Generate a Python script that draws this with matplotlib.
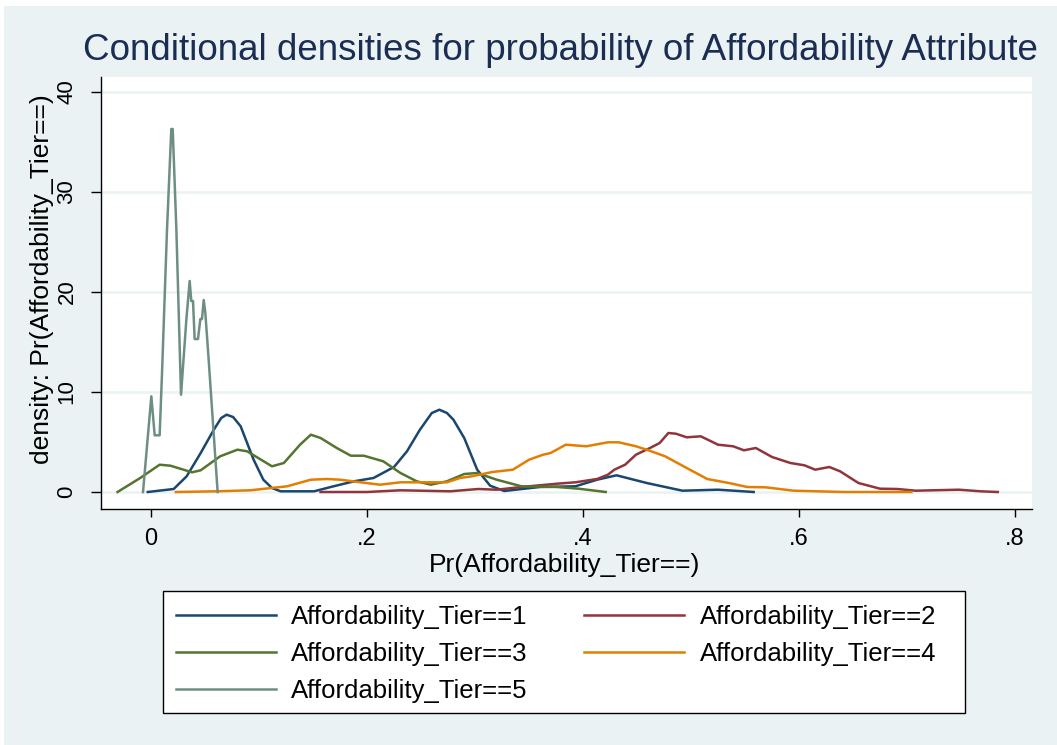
import matplotlib.pyplot as plt
from matplotlib.patches import Rectangle

plt.rcParams['font.family'] = ['Liberation Sans', 'DejaVu Sans']

# density curves (x = Pr, y = density)
tier1_x = [-0.003, 0.021, 0.033, 0.046, 0.058, 0.065, 0.070, 0.076, 0.083, 0.095, 0.104, 0.112, 0.120,
           0.151, 0.169, 0.188, 0.206, 0.225, 0.237, 0.249, 0.260, 0.267, 0.274, 0.280, 0.290, 0.302,
           0.314, 0.327, 0.360, 0.393, 0.413, 0.431, 0.459, 0.492, 0.525, 0.558]
tier1_y = [0.0, 0.3, 1.57, 3.9, 6.2, 7.4, 7.73, 7.5, 6.57, 3.23, 1.23, 0.4, 0.07,
           0.07, 0.57, 1.07, 1.4, 2.5, 4.07, 6.23, 7.9, 8.23, 7.9, 7.23, 5.4, 2.23,
           0.63, 0.1, 0.5, 0.57, 1.23, 1.67, 0.9, 0.13, 0.23, 0.0]

tier2_x = [0.157, 0.200, 0.231, 0.277, 0.303, 0.320, 0.343, 0.376, 0.393, 0.413, 0.423,
           0.429, 0.439, 0.449, 0.462, 0.471, 0.479, 0.486, 0.496, 0.509, 0.525, 0.539,
           0.549, 0.560, 0.575, 0.592, 0.605, 0.615, 0.628, 0.638, 0.655, 0.675, 0.691,
           0.708, 0.748, 0.768, 0.784]
tier2_y = [0.0, 0.0, 0.17, 0.07, 0.3, 0.23, 0.5, 0.83, 0.97, 1.3, 1.73,
           2.23, 2.73, 3.73, 4.4, 4.9, 5.9, 5.83, 5.47, 5.57, 4.73, 4.57,
           4.17, 4.4, 3.5, 2.9, 2.67, 2.23, 2.5, 2.07, 0.9, 0.33, 0.3,
           0.13, 0.23, 0.07, 0.0]

tier3_x = [-0.031, -0.010, 0.008, 0.018, 0.038, 0.046, 0.064, 0.080, 0.089, 0.112, 0.123,
           0.138, 0.148, 0.157, 0.172, 0.185, 0.197, 0.215, 0.231, 0.246, 0.259, 0.274,
           0.290, 0.302, 0.320, 0.343, 0.376, 0.396, 0.421]
tier3_y = [0.0, 1.4, 2.73, 2.63, 1.97, 2.17, 3.57, 4.23, 4.07, 2.57, 2.9,
           4.73, 5.73, 5.4, 4.4, 3.63, 3.63, 3.07, 1.9, 1.07, 0.73, 1.07,
           1.8, 1.9, 1.23, 0.57, 0.5, 0.33, 0.0]

tier4_x = [0.023, 0.061, 0.092, 0.126, 0.148, 0.163, 0.175, 0.194, 0.212, 0.231, 0.253,
           0.274, 0.286, 0.297, 0.316, 0.335, 0.350, 0.363, 0.370, 0.384, 0.403, 0.423,
           0.433, 0.449, 0.459, 0.476, 0.496, 0.515, 0.535, 0.552, 0.569, 0.595, 0.642,
           0.675, 0.704]
tier4_y = [0.0, 0.07, 0.17, 0.57, 1.23, 1.3, 1.23, 0.97, 0.73, 0.97, 0.97,
           0.97, 1.4, 1.57, 2.0, 2.23, 3.23, 3.73, 3.9, 4.73, 4.57, 4.97,
           4.97, 4.57, 4.23, 3.57, 2.4, 1.3, 0.9, 0.5, 0.47, 0.13, 0.0,
           0.0, 0.0]

tier5_x = [-0.0074, 0.0003, 0.0034, 0.0080, 0.0102, 0.0148, 0.0188, 0.0201, 0.0235, 0.0278,
           0.0327, 0.0358, 0.0373, 0.0389, 0.0404, 0.0435, 0.0457, 0.0472, 0.0488, 0.0503,
           0.0534, 0.0617]
tier5_y = [0.0, 9.57, 5.67, 5.67, 11.9, 26.2, 36.3, 36.3, 26.2, 9.73,
           17.2, 21.1, 19.1, 19.1, 15.3, 15.3, 17.3, 17.3, 19.2, 17.9,
           13.2, 0.0]

labels = ["Affordability_Tier==1", "Affordability_Tier==2", "Affordability_Tier==3",
          "Affordability_Tier==4", "Affordability_Tier==5"]
colors = ["#1a476f", "#90353b", "#55752f", "#e37e00", "#6e8e84"]
xticks = [0, 0.2, 0.4, 0.6, 0.8]
xtick_labels = ["0", ".2", ".4", ".6", ".8"]
yticks = [0, 10, 20, 30, 40]

bg = "#eaf2f3"
fig = plt.figure(figsize=(10.57, 7.45), dpi=100)
fig.patch.set_facecolor("white")
fig.patches.append(Rectangle((4 / 1057, 0), 1, 1 - 6 / 745, transform=fig.transFigure,
                             facecolor=bg, edgecolor="none", zorder=-10))

ax = fig.add_axes([101 / 1057, 1 - 509 / 745, 931 / 1057, 432 / 745])
ax.set_facecolor("white")

series = [(tier1_x, tier1_y), (tier2_x, tier2_y), (tier3_x, tier3_y),
          (tier4_x, tier4_y), (tier5_x, tier5_y)]
lines = []
for i in range(len(series)):
    ln, = ax.plot(series[i][0], series[i][1], color=colors[i], lw=1.8, label=labels[i])
    lines.append(ln)

ax.set_xlim(-0.0463, 0.8157)
ax.set_ylim(-1.7, 41.5)
ax.set_xticks(xticks)
ax.set_xticklabels(xtick_labels)
ax.set_yticks(yticks)
ax.tick_params(axis="x", labelsize=17, length=6, width=1, pad=8)
ax.tick_params(axis="y", labelsize=16, length=7, width=1, pad=10)
for lab in ax.get_yticklabels():
    lab.set_rotation(90)
    lab.set_va("center")
ax.grid(axis="y", color=bg, lw=1.8)
ax.set_axisbelow(True)
for s in ["top", "right"]:
    ax.spines[s].set_visible(False)
for s in ["left", "bottom"]:
    ax.spines[s].set_color("black")
    ax.spines[s].set_linewidth(1)

ax.set_xlabel("Pr(Affordability_Tier==)", fontsize=19)
ax.xaxis.set_label_coords(0.498, -0.102)
ax.set_ylabel("density: Pr(Affordability_Tier==)", fontsize=19)
ax.yaxis.set_label_coords(-0.050, 0.532)

fig.text(560 / 1057, 1 - 50 / 745, "Conditional densities for probability of Affordability Attribute",
         ha="center", va="center", fontsize=26.5, color="#1c2d54")

# legend box drawn separately so the columns can sit where the reference has them
fig.patches.append(Rectangle((163 / 1057, 1 - 713 / 745), 802 / 1057, 122 / 745,
                             transform=fig.transFigure, facecolor="white",
                             edgecolor="black", lw=1, zorder=1))

# row-major order like the reference legend
order = [0, 2, 4, 1, 3]
leg = fig.legend([lines[k] for k in order], [labels[k] for k in order],
                 loc="center", bbox_to_anchor=(556 / 1057, 1 - 654 / 745),
                 ncol=2, fontsize=18.5, frameon=False,
                 handlelength=3.9, handletextpad=0.6, labelspacing=0.5, borderaxespad=0,
                 borderpad=0.3, columnspacing=2.2)
leg.set_zorder(2)

plt.savefig("out.png", dpi=100)
